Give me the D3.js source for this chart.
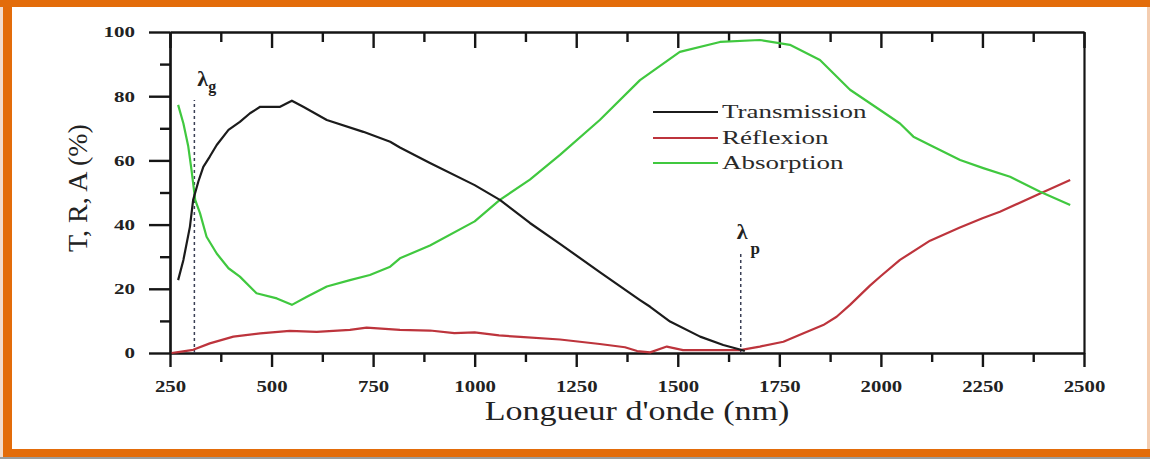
<!DOCTYPE html>
<html><head><meta charset="utf-8">
<script src="https://cdn.jsdelivr.net/npm/d3@7"></script>
<style>body{margin:0;background:#fff}svg{display:block}</style>
</head><body>
<svg id="c" width="1150" height="459"></svg>
<script>
// ---- data ----
const seriesNames = ["Transmission", "Réflexion", "Absorption"];
const xTickValues = [250, 500, 750, 1000, 1250, 1500, 1750, 2000, 2250, 2500];
const yTickValues = [0, 20, 40, 60, 80, 100];

const transWl  = [270, 283, 299, 307, 320, 332, 348, 365, 394, 422, 447, 472, 521, 550, 578, 636, 726, 792, 816, 890, 1000, 1062, 1136, 1210, 1308, 1407, 1432, 1481, 1555, 1612, 1653, 1665];
const transVal = [22.7, 29, 39.3, 47.7, 53.5, 58, 61.2, 64.8, 69.5, 72, 74.7, 76.7, 76.7, 78.6, 76.7, 72.6, 68.9, 65.8, 64, 59.2, 52.3, 47.7, 40.5, 34, 25.2, 16.5, 14.4, 9.8, 5.1, 2.5, 1.1, 0.6];

const reflWl  = [254, 270, 307, 348, 406, 472, 545, 611, 693, 734, 816, 890, 950, 1000, 1060, 1112, 1210, 1308, 1370, 1400, 1432, 1473, 1513, 1596, 1653, 1702, 1760, 1808, 1858, 1891, 1924, 1973, 2000, 2047, 2121, 2193, 2250, 2293, 2392, 2466];
const reflVal = [0, 0.3, 1, 3, 5.1, 6.1, 6.9, 6.6, 7.2, 7.9, 7.2, 7, 6.2, 6.4, 5.5, 5, 4.2, 2.8, 1.8, 0.6, 0.2, 2, 0.9, 0.9, 0.9, 2, 3.5, 6.1, 8.7, 11.3, 15, 21, 24, 29, 35, 39, 42, 44, 49.7, 53.9];

const absWl  = [270, 283, 295, 303, 312, 324, 340, 365, 394, 422, 463, 513, 550, 587, 636, 693, 742, 792, 816, 890, 1000, 1062, 1136, 1210, 1308, 1407, 1505, 1604, 1702, 1776, 1850, 1924, 1998, 2047, 2080, 2128, 2195, 2252, 2318, 2392, 2466];
const absVal = [77.3, 71.5, 64.3, 57, 47.7, 43.5, 36.2, 31, 26.4, 23.8, 18.6, 17, 15, 17.5, 20.7, 22.7, 24.3, 26.9, 29.5, 33.5, 41, 47.7, 54, 61.7, 72.6, 85, 93.8, 96.9, 97.5, 96, 91.3, 82, 75.7, 71.5, 67.4, 64.3, 60.1, 57.6, 54.9, 50.2, 46.1];

const markerWl = [310, 1655];
const markerTop = [78.8, 31.5];
const markerLabel = ["g", "p"];

// ---- drawing ----
const svg = d3.select('#c');
const W = 1150, H = 459;
svg.append('rect').attr('x',0).attr('y',0).attr('width',W).attr('height',H).attr('fill','#fff');
const orange = '#e36c0a';
svg.append('rect').attr('x',0).attr('y',0).attr('width',3).attr('height',H).attr('fill','#f2dccd');
svg.append('rect').attr('x',1147).attr('y',0).attr('width',3).attr('height',H).attr('fill','#f4cdb0');
svg.append('rect').attr('x',0).attr('y',0).attr('width',W).attr('height',7).attr('fill',orange);
svg.append('rect').attr('x',3).attr('y',0).attr('width',9).attr('height',457).attr('fill',orange);
svg.append('rect').attr('x',3).attr('y',449).attr('width',W-3).attr('height',8).attr('fill',orange);
svg.append('rect').attr('x',0).attr('y',457).attr('width',W).attr('height',2).attr('fill','#9c9c9c');

const x = d3.scaleLinear().domain([250, 2500]).range([170, 1084]);
const y = d3.scaleLinear().domain([0, 100]).range([353, 32]);

const xMinor = d3.range(250, 2501, 125).filter(v => !xTickValues.includes(v));
const yMinor = d3.range(0, 101, 10).filter(v => !yTickValues.includes(v));

const FONT = "'Liberation Serif','Times New Roman',serif";
const axisColor = '#151515';

function styleAxis(g){
  g.selectAll('path.domain').attr('stroke', axisColor).attr('stroke-width', 2.2);
  g.selectAll('.tick line').attr('stroke', axisColor).attr('stroke-width', 2.4);
}
function stretch(sel, f){
  sel.each(function(){
    const w = this.getComputedTextLength();
    d3.select(this).attr('textLength', w * f).attr('lengthAdjust', 'spacingAndGlyphs');
  });
}

// bottom minor
const gxm = svg.append('g').attr('transform', `translate(0,${y(0)})`)
  .call(d3.axisBottom(x).tickValues(xMinor).tickSize(9).tickFormat('').tickSizeOuter(0));
styleAxis(gxm);
// bottom major
const gx = svg.append('g').attr('transform', `translate(0,${y(0)})`)
  .call(d3.axisBottom(x).tickValues(xTickValues).tickSize(14).tickPadding(14).tickFormat(d3.format('d')).tickSizeOuter(0));
styleAxis(gx);
gx.selectAll('text').attr('font-family', FONT).attr('font-weight', 'bold').attr('font-size', 16).attr('fill', '#222');
stretch(gx.selectAll('text'), 1.3);

// top axis (inward ticks)
const gtm = svg.append('g').attr('transform', `translate(0,${y(100)})`)
  .call(d3.axisTop(x).tickValues(xMinor).tickSize(-10).tickFormat('').tickSizeOuter(0));
styleAxis(gtm);
const gt = svg.append('g').attr('transform', `translate(0,${y(100)})`)
  .call(d3.axisTop(x).tickValues(xTickValues).tickSize(-16).tickFormat('').tickSizeOuter(0));
styleAxis(gt);

// left axis
const gym = svg.append('g').attr('transform', `translate(${x(250)},0)`)
  .call(d3.axisLeft(y).tickValues(yMinor).tickSize(10).tickFormat('').tickSizeOuter(0));
styleAxis(gym);
const gy = svg.append('g').attr('transform', `translate(${x(250)},0)`)
  .call(d3.axisLeft(y).tickValues(yTickValues).tickSize(21).tickPadding(14).tickFormat(d3.format('d')).tickSizeOuter(0));
styleAxis(gy);
gy.selectAll('text').attr('font-family', FONT).attr('font-weight', 'bold').attr('font-size', 15).attr('fill', '#222');
stretch(gy.selectAll('text'), 1.4);

// right axis (no ticks)
const gr = svg.append('g').attr('transform', `translate(${x(2500)},0)`)
  .call(d3.axisRight(y).tickValues([]).tickSizeOuter(0));
styleAxis(gr);

// marker lines
markerWl.forEach((wl, i) => {
  svg.append('line').attr('x1', x(wl)).attr('x2', x(wl)).attr('y1', y(0)).attr('y2', y(markerTop[i]))
    .attr('stroke', '#3a3f55').attr('stroke-width', 1.5).attr('stroke-dasharray', '3,3');
});
// marker labels
const lg = svg.append('text').attr('x', x(markerWl[0]) + 3).attr('y', 86)
  .attr('font-family', FONT).attr('font-weight', 'bold').attr('font-size', 22).attr('fill', '#222');
lg.append('tspan').text('λ');
lg.append('tspan').attr('dy', 6).attr('dx', 0).attr('font-size', 16).text(markerLabel[0]);
const lp = svg.append('text').attr('x', x(markerWl[1]) - 4).attr('y', 239)
  .attr('font-family', FONT).attr('font-weight', 'bold').attr('font-size', 22).attr('fill', '#222');
lp.append('tspan').text('λ');
lp.append('tspan').attr('dy', 15).attr('dx', 3).attr('font-size', 17).text(markerLabel[1]);

// curves
const colors = ['#1b1b1b', '#bd343c', '#40c83f'];
const data = [
  d3.zip(transWl, transVal),
  d3.zip(reflWl, reflVal),
  d3.zip(absWl, absVal)
];
const line = d3.line().x(d => x(d[0])).y(d => y(d[1]));
[1, 2, 0].forEach(i => {
  svg.append('path').datum(data[i]).attr('d', line).attr('fill', 'none')
    .attr('stroke', colors[i]).attr('stroke-width', 2.2).attr('stroke-linejoin', 'round');
});

// legend
const legY = [112, 138, 163];
seriesNames.forEach((name, i) => {
  svg.append('line').attr('x1', 653).attr('x2', 718).attr('y1', legY[i]).attr('y2', legY[i])
    .attr('stroke', colors[i]).attr('stroke-width', 2.2);
  const t = svg.append('text').attr('x', 722).attr('y', legY[i] + 6)
    .attr('font-family', FONT).attr('font-size', 18).attr('fill', '#2a2a2a').text(name);
  stretch(t, 1.5);
});

// axis titles
svg.append('text').attr('transform', 'translate(87,188) rotate(-90)')
  .attr('text-anchor', 'middle').attr('font-family', FONT).attr('font-size', 28).attr('fill', '#222')
  .text('T, R, A (%)');
const xt = svg.append('text').attr('x', 637).attr('y', 420).attr('text-anchor', 'middle')
  .attr('font-family', FONT).attr('font-size', 27).attr('fill', '#222').text("Longueur d'onde (nm)");
stretch(xt, 1.26);
</script>
</body></html>
